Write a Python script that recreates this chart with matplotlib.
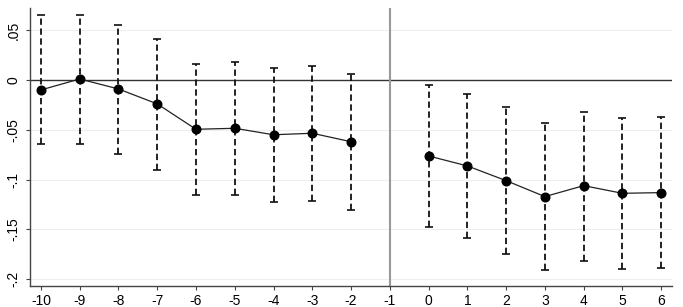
import matplotlib as mpl
mpl.use('agg')
import numpy as np
import matplotlib.pyplot as plt

plt.rcParams['font.family'] = ['Liberation Sans', 'DejaVu Sans']

# pre-period and post-period estimates with 95% CI bounds
pre_x = [-10, -9, -8, -7, -6, -5, -4, -3, -2]
pre_y = [-0.010, 0.001, -0.009, -0.024, -0.0495, -0.0485, -0.055, -0.0535, -0.062]
pre_lo = [-0.0646, -0.064, -0.0746, -0.0904, -0.1158, -0.1155, -0.1222, -0.1215, -0.1305]
pre_hi = [0.065, 0.065, 0.055, 0.041, 0.0158, 0.0178, 0.0124, 0.0137, 0.006]

post_x = [0, 1, 2, 3, 4, 5, 6]
post_y = [-0.0763, -0.0863, -0.1011, -0.1171, -0.1061, -0.1138, -0.1131]
post_lo = [-0.1479, -0.159, -0.1747, -0.1908, -0.1814, -0.1894, -0.189]
post_hi = [-0.0053, -0.0144, -0.0274, -0.0428, -0.0321, -0.0382, -0.0375]

xticks = list(range(-10, 7))
yticks = [-0.2, -0.15, -0.1, -0.05, 0, 0.05]
ylabels = ['-.2', '-.15', '-.1', '-.05', '0', '.05']

fig = plt.figure(figsize=(6.83, 3.07), dpi=100)
ax = fig.add_axes([0.044, 0.068, 0.940, 0.906])

for yt in yticks:
    ax.axhline(yt, color='#eeeeee', linewidth=0.8, zorder=0)
ax.axhline(0, color='#333333', linewidth=1.0, zorder=1)
ax.axvline(-1, color='#999999', linewidth=1.5, zorder=1)

for xs, ys, lo, hi in [(pre_x, pre_y, pre_lo, pre_hi), (post_x, post_y, post_lo, post_hi)]:
    xs = np.array(xs); ys = np.array(ys); lo = np.array(lo); hi = np.array(hi)
    eb = ax.errorbar(xs, ys, yerr=[ys - lo, hi - ys], fmt='none', ecolor='#111111',
                     elinewidth=1.3, capsize=3, capthick=1.2, zorder=2)
    eb[2][0].set_linestyle((0, (3.5, 2)))
    ax.plot(xs, ys, color='#222222', linewidth=0.9, marker='o', markersize=6.2,
            markerfacecolor='black', markeredgecolor='black', zorder=3)

ax.set_xlim(-10.28, 6.28)
ax.set_ylim(-0.207, 0.0723)
ax.set_xticks(xticks)
ax.set_xticklabels([str(t) for t in xticks])
ax.set_yticks(yticks)
ax.set_yticklabels(ylabels, rotation=90, va='center')

for s in ['top', 'right']:
    ax.spines[s].set_visible(False)
for s in ['left', 'bottom']:
    ax.spines[s].set_color('#444444')
    ax.spines[s].set_linewidth(1.0)
ax.tick_params(axis='both', length=3, width=0.8, color='#444444', labelsize=10)
ax.tick_params(axis='x', pad=3)
ax.tick_params(axis='y', pad=4)

plt.savefig("out.png", dpi=100)
